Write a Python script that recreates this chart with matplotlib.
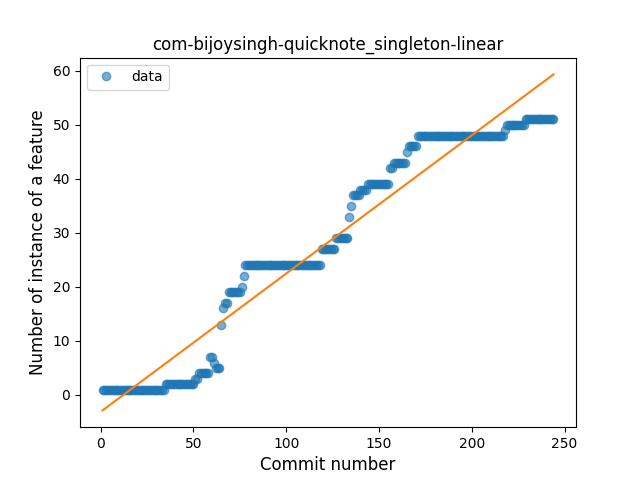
import numpy as np
import matplotlib.pyplot as plt

# (value, run length), commits start at 1
run_values = [1, 2, 3, 4, 7, 6, 5, 13, 16, 17, 19, 20, 22, 24, 27, 29, 33, 35, 37, 38, 39,
              42, 43, 45, 46, 48, 49, 50, 51]
run_lengths = [34, 16, 2, 6, 2, 1, 3, 1, 1, 2, 7, 1, 1, 41, 8, 7, 1, 1, 4, 4, 12,
               2, 7, 1, 5, 47, 1, 10, 16]

y = np.repeat(run_values, run_lengths).astype(float)
x = np.arange(1, len(y) + 1)

coef = np.polyfit(x, y, 1)

fig, ax = plt.subplots(figsize=(6.4, 4.8), dpi=100)
ax.plot(x, y, 'o', alpha=0.6, label='data')
ax.plot(x, np.polyval(coef, x))
ax.set_title('com-bijoysingh-quicknote_singleton-linear')
ax.set_xlabel('Commit number', fontsize=12)
ax.set_ylabel('Number of instance of a feature', fontsize=12)
ax.legend(loc='upper left')
plt.savefig('out.png')
plt.close(fig)
